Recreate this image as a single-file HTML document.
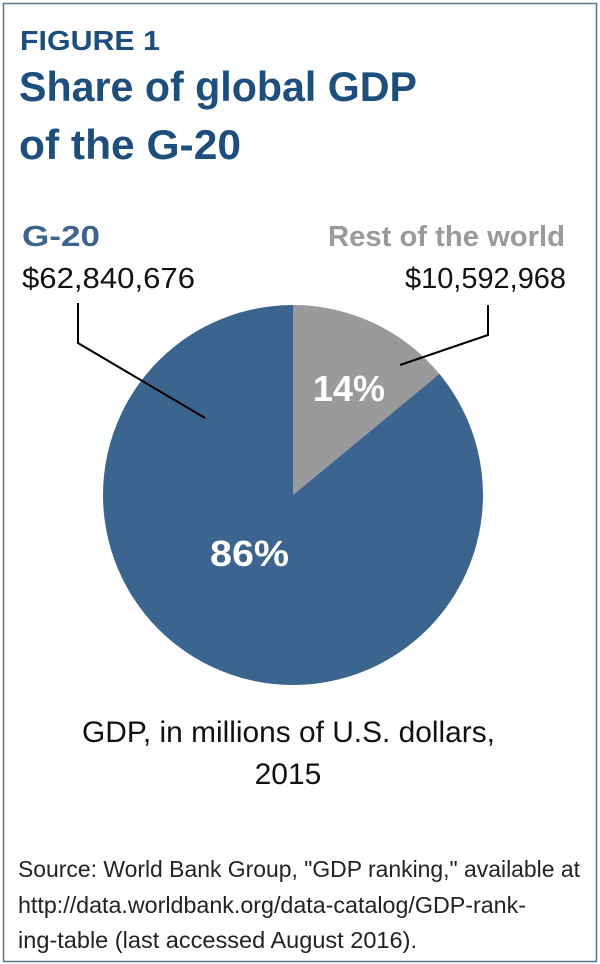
<!DOCTYPE html>
<html><head><meta charset="utf-8"><style>
html,body{margin:0;padding:0;background:#fff;}
body{width:600px;height:964px;position:relative;overflow:hidden;font-family:"Liberation Sans",sans-serif;}
</style></head><body>
<svg width="600" height="964" xmlns="http://www.w3.org/2000/svg" style="position:absolute;left:0;top:0">
<rect x="3.5" y="3.5" width="593" height="958" fill="#fff" stroke="#5a7690" stroke-width="1.5"/>
<g font-family="Liberation Sans, sans-serif" font-weight="bold" fill="#1e4e7c">
<text x="20" y="50" font-size="28" textLength="140" lengthAdjust="spacingAndGlyphs">FIGURE 1</text>
<text x="19" y="101" font-size="42" textLength="398" lengthAdjust="spacingAndGlyphs">Share of global GDP</text>
<text x="19" y="159" font-size="42" textLength="222" lengthAdjust="spacingAndGlyphs">of the G-20</text>
</g>
<path d="M293,495 L293,305 A190,190 0 0 1 439.4,373.9 Z" fill="#9a9a9c"/>
<path d="M293,495 L439.4,373.9 A190,190 0 1 1 293,305 Z" fill="#3b658f"/>
<polyline points="78,303 78,343 205,418" fill="none" stroke="#000" stroke-width="2"/>
<polyline points="488,305 488,335 400,365" fill="none" stroke="#000" stroke-width="2"/>
<text x="22" y="246" font-size="29" font-weight="bold" fill="#3b658f" textLength="78" lengthAdjust="spacingAndGlyphs">G-20</text>
<text x="22" y="288" font-size="29" fill="#111" textLength="173" lengthAdjust="spacingAndGlyphs">$62,840,676</text>
<text x="328" y="246" font-size="29" font-weight="bold" fill="#9a9a9c" textLength="237" lengthAdjust="spacingAndGlyphs">Rest of the world</text>
<text x="405" y="288" font-size="29" fill="#111" textLength="161" lengthAdjust="spacingAndGlyphs">$10,592,968</text>
<text x="313" y="401" font-size="36" font-weight="bold" fill="#fff" textLength="72" lengthAdjust="spacingAndGlyphs">14%</text>
<text x="210" y="566" font-size="36" font-weight="bold" fill="#fff" textLength="79" lengthAdjust="spacingAndGlyphs">86%</text>
<text x="82" y="742" font-size="30" fill="#111" textLength="413" lengthAdjust="spacingAndGlyphs">GDP, in millions of U.S. dollars,</text>
<text x="288" y="784" font-size="30" fill="#111" text-anchor="middle">2015</text>
<g font-size="23" fill="#222">
<text x="18" y="877" textLength="562" lengthAdjust="spacingAndGlyphs">Source: World Bank Group, "GDP ranking," available at</text>
<text x="18" y="913" textLength="508" lengthAdjust="spacingAndGlyphs">http://data.worldbank.org/data-catalog/GDP-rank-</text>
<text x="18" y="948" textLength="399" lengthAdjust="spacingAndGlyphs">ing-table (last accessed August 2016).</text>
</g>
</svg>
</body></html>
